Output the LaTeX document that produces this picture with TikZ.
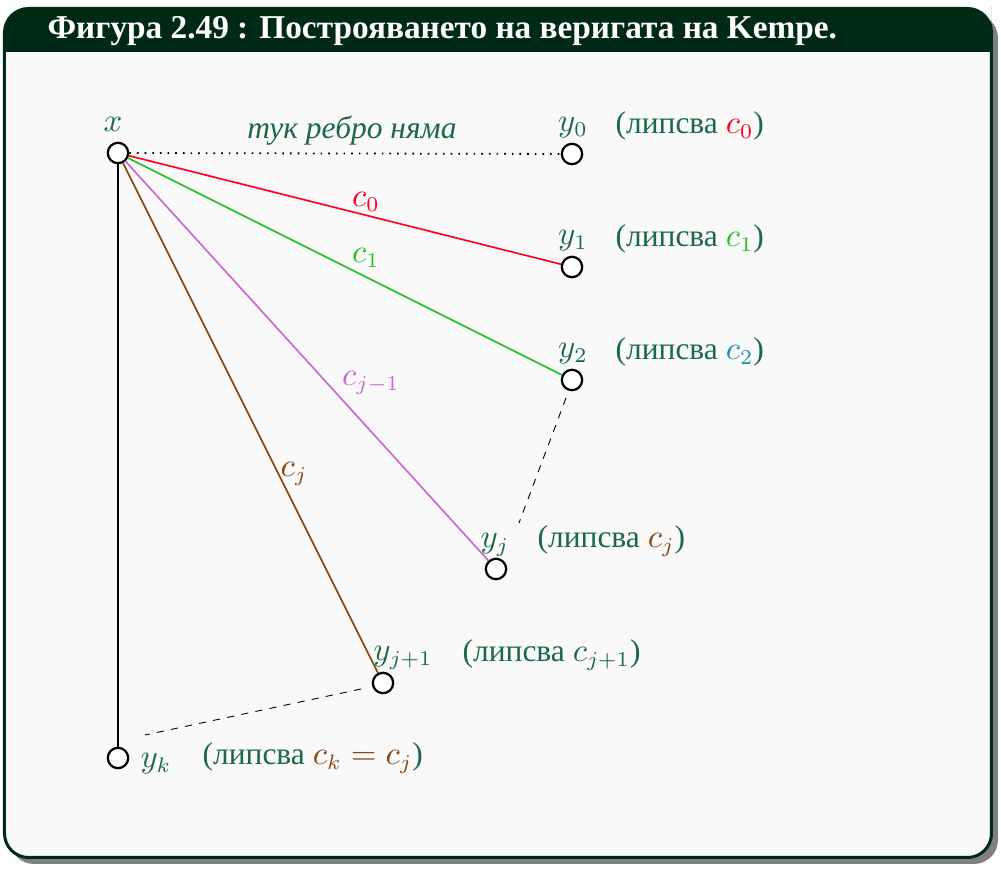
\documentclass[tikz,border=0pt]{standalone}
\usepackage{fontspec}
\setmainfont{Liberation Serif}
\usetikzlibrary{calc}
\definecolor{frameg}{HTML}{002A16}
\definecolor{txtg}{HTML}{1B6A43}
\definecolor{bgc}{HTML}{F9F9F9}
\definecolor{cred}{HTML}{FF0022}
\definecolor{cgreen}{HTML}{22C322}
\definecolor{cteal}{HTML}{1E8FB0}
\definecolor{cviolet}{HTML}{CC66CC}
\definecolor{cbrown}{HTML}{8B4513}
\begin{document}
\begin{tikzpicture}[x=0.33333pt,y=-0.33333pt,
  vert/.style={circle,draw=black,fill=white,line width=0.75pt,minimum size=6.8pt,inner sep=0pt},
  lbl/.style={text=txtg,font=\fontsize{10.5}{12.5}\selectfont,inner sep=0pt},
  edge/.style={line width=0.55pt},
  elbl/.style={font=\fontsize{10.5}{12.5}\selectfont,inner sep=0pt}]
\useasboundingbox (0,0) rectangle (1001,870);
% shadow and frame
\fill[black!50,rounded corners=8] (10,14) rectangle (998,864);
\draw[frameg,fill=bgc,line width=1pt,rounded corners=8] (4.5,8.5) rectangle (991.5,857.5);
\fill[frameg,rounded corners=8] (4.5,8.5) -- (991.5,8.5) -- (991.5,30) |- (4.5,52) -- cycle;
\fill[frameg] (4.5,30) rectangle (991.5,52);
\node[anchor=west,text=white,font=\bfseries\fontsize{11.1}{13}\selectfont,inner sep=0pt] (title) at (47,31) {Фигура 2.49 : Построяването на веригата на Kempe.};
% vertices
\node[vert] (x) at (118,153) {};
\node[vert] (y0) at (572,154) {};
\node[vert] (y1) at (572,267) {};
\node[vert] (y2) at (572,380) {};
\node[vert] (yj) at (496,569) {};
\node[vert] (yj1) at (383,683) {};
\node[vert] (yk) at (118,758) {};
% edges
\draw[edge,dotted,line width=0.6pt] (x) -- (y0);
\draw[edge,cred] (x) -- (y1);
\draw[edge,cgreen] (x) -- (y2);
\draw[edge,cviolet] (x) -- (yj);
\draw[edge,cbrown] (x) -- (yj1);
\draw[edge,black,line width=0.65pt] (x) -- (yk);
\coordinate (d1a) at (566,398);
\coordinate (d1b) at (519,523);
\coordinate (d2a) at (361,689);
\coordinate (d2b) at (145,735);
\draw[line width=0.3pt,dash pattern=on 2.4pt off 2.4pt] (d1a) -- (d1b);
\draw[line width=0.3pt,dash pattern=on 2.4pt off 2.4pt] (d2a) -- (d2b);
% vertex labels
\node[lbl] (lx) at (113,124) {$x$};
\node[lbl] (ly0) at (573,128) {$y_0$};
\node[lbl] (ly1) at (573,241) {$y_1$};
\node[lbl] (ly2) at (573,354) {$y_2$};
\node[lbl] (lyj) at (495,545) {$y_j$};
\node[lbl] (lyj1) at (403,658) {$y_{j+1}$};
\node[lbl] (lyk) at (156,764) {$y_k$};
% missing labels
\node[lbl,anchor=west] (m0) at (615,126) {(липсва \textcolor{cred}{$c_0$})};
\node[lbl,anchor=west] (m1) at (615,239) {(липсва \textcolor{cgreen}{$c_1$})};
\node[lbl,anchor=west] (m2) at (615,352) {(липсва \textcolor{cteal}{$c_2$})};
\node[lbl,anchor=west] (mj) at (537,541) {(липсва \textcolor{cbrown}{$c_j$})};
\node[lbl,anchor=west] (mj1) at (462,655) {(липсва $c_{j+1}$)};
\node[lbl,anchor=west] (mk) at (202,758) {(липсва \textcolor{cbrown}{$c_k=c_j$})};
% edge labels
\node[elbl,text=txtg,font=\fontsize{10.5}{12.5}\selectfont\itshape] (none) at (352,131) {тук ребро няма};
\node[elbl,text=cred] (l0) at (366,202) {$c_0$};
\node[elbl,text=cgreen] (l1) at (366,258) {$c_1$};
\node[elbl,text=cviolet] (lj1) at (371,383) {$c_{j-1}$};
\node[elbl,text=cbrown] (lj) at (294,474) {$c_j$};
\end{tikzpicture}
\end{document}
